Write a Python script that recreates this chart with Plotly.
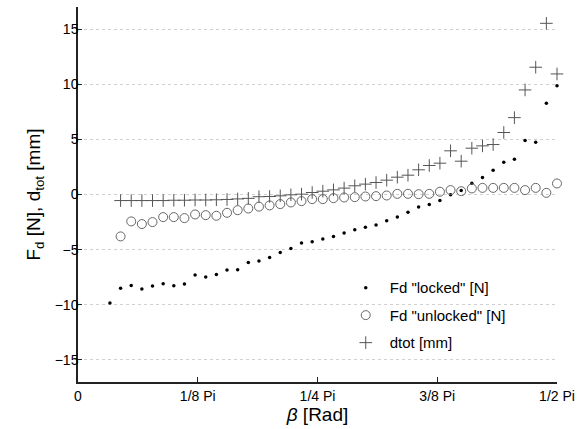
import math
import plotly.graph_objects as go

# angles in degrees
deg_locked = list(range(6, 91, 2))
deg_other = list(range(8, 91, 2))

fd_locked = [-9.84, -8.51, -8.24, -8.57, -8.30, -8.09, -8.27, -8.12, -7.30, -7.48,
             -7.25, -6.85, -6.82, -6.16, -6.03, -5.71, -5.25, -4.89, -4.40, -4.28,
             -4.04, -3.80, -3.50, -3.20, -2.96, -2.77, -2.38, -2.05, -1.60, -1.14,
             -0.91, -0.54, -0.03, 0.36, 1.03, 1.54, 2.21, 2.93, 3.20, 4.89,
             4.74, 8.28, 9.87]
fd_unlocked = [-3.80, -2.44, -2.68, -2.50, -2.05, -2.05, -2.14, -1.81, -1.87, -1.93,
               -1.66, -1.42, -1.27, -1.10, -0.99, -0.87, -0.72, -0.60, -0.42, -0.42,
               -0.33, -0.27, -0.24, -0.18, -0.15, -0.09, 0.06, 0.06, 0.03, 0.06,
               0.25, 0.40, 0.30, 0.55, 0.60, 0.60, 0.60, 0.60, 0.40, 0.60,
               0.15, 1.00]
dtot = [-0.55, -0.55, -0.55, -0.55, -0.55, -0.52, -0.52, -0.50, -0.50, -0.48,
        -0.45, -0.40, -0.35, -0.20, -0.18, -0.12, -0.03, 0.03, 0.18, 0.30,
        0.42, 0.58, 0.79, 0.94, 1.09, 1.30, 1.57, 1.75, 2.24, 2.63,
        2.84, 3.96, 3.02, 4.20, 4.41, 4.53, 5.62, 6.97, 9.48, 11.54,
        15.52, 10.93]

x_tick_vals = [0, math.pi / 8, math.pi / 4, 3 * math.pi / 8, math.pi / 2]
x_tick_text = ["0", "1/8 Pi", "1/4 Pi", "3/8 Pi", "1/2 Pi"]
y_tick_vals = [-15, -10, -5, 0, 5, 10, 15]

x_locked = [d * math.pi / 180 for d in deg_locked]
x_other = [d * math.pi / 180 for d in deg_other]

FONT = "Liberation Sans, Arial, sans-serif"

fig = go.Figure()
fig.add_trace(go.Scatter(
    x=x_locked, y=fd_locked, mode="markers", name='Fd "locked" [N]',
    legendgroup="a",
    marker=dict(symbol="circle", size=3.5, color="black"), cliponaxis=False))
fig.add_trace(go.Scatter(
    x=x_other, y=fd_unlocked, mode="markers", name='Fd "unlocked" [N]',
    legendgroup="b",
    marker=dict(symbol="circle-open", size=9, color="#666666",
                line=dict(width=1, color="#666666")), cliponaxis=False))
fig.add_trace(go.Scatter(
    x=x_other, y=dtot, mode="markers", name="dtot [mm]",
    legendgroup="c",
    marker=dict(symbol="cross-thin", size=9, color="#555555",
                line=dict(width=1, color="#555555")), cliponaxis=False))

fig.update_layout(
    width=582, height=429,
    margin=dict(l=78, r=25, t=7, b=47),
    paper_bgcolor="white", plot_bgcolor="white",
    font=dict(family=FONT, size=14, color="black"),
    showlegend=True,
    legend=dict(x=0.5506, y=0.295, xanchor="left", yanchor="top",
                bgcolor="rgba(0,0,0,0)", font=dict(size=15),
                itemwidth=38, tracegroupgap=5, traceorder="grouped"),
    xaxis=dict(range=[0, math.pi / 2], tickvals=x_tick_vals, ticktext=x_tick_text,
               showgrid=False, zeroline=False, showline=True, linecolor="#222222",
               linewidth=1.5, ticks="inside", ticklen=5, tickcolor="#222222",
               tickfont=dict(size=14),
               title=dict(text="<i>β</i> [Rad]", font=dict(size=19), standoff=4)),
    yaxis=dict(range=[-17, 17], tickvals=y_tick_vals,
               showgrid=True, gridcolor="#d0d0d0", griddash="dot", gridwidth=1,
               zeroline=False, showline=True, linecolor="#222222", linewidth=1.5,
               ticks="inside", ticklen=4, tickcolor="#222222",
               tickfont=dict(size=14), ticklabelstandoff=-5,
               title=dict(text="F<sub>d</sub> [N], d<sub>tot</sub> [mm]",
                          font=dict(size=19), standoff=9)),
)

fig.write_html("out.html")
